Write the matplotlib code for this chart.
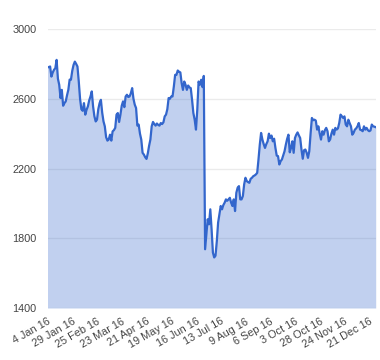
import numpy as np
import pandas as pd
import matplotlib
matplotlib.use('Agg')
import matplotlib.pyplot as plt

plt.rcParams['font.family'] = ['Liberation Sans', 'DejaVu Sans']

# UK trading days in 2016 (bank holidays removed)
holidays = ['2016-03-25', '2016-03-28', '2016-05-02', '2016-05-30',
            '2016-08-29', '2016-12-26', '2016-12-27']
dates = [d for d in pd.bdate_range('2016-01-04', '2016-12-30')
         if d.strftime('%Y-%m-%d') not in holidays]

prices = [
    2779, 2782, 2785, 2727, 2750, 2766, 2775, 2823, 2715, 2680,
    2604, 2651, 2560, 2575, 2585, 2620, 2651, 2710, 2709, 2760,
    2794, 2813, 2800, 2785, 2700, 2600, 2540, 2531, 2575, 2509,
    2537, 2556, 2590, 2613, 2642, 2556, 2500, 2470, 2480, 2540,
    2575, 2594, 2520, 2470, 2442, 2380, 2360, 2366, 2394, 2360,
    2413, 2420, 2433, 2509, 2518, 2467, 2509, 2560, 2585, 2552,
    2613, 2623, 2610, 2613, 2632, 2661, 2600, 2566, 2547, 2446,
    2452, 2400, 2366, 2290, 2280, 2265, 2255, 2286, 2330, 2366,
    2442, 2467, 2455, 2446, 2458, 2450, 2446, 2461, 2455, 2465,
    2499, 2509, 2540, 2604, 2600, 2613, 2613, 2670, 2737, 2737,
    2762, 2755, 2751, 2690, 2651, 2699, 2680, 2651, 2676, 2665,
    2661, 2594, 2518, 2480, 2423, 2537, 2699, 2680, 2709, 2667,
    2731, 1737, 1820, 1909, 1880, 1966, 1851, 1718, 1690, 1700,
    1783, 1890, 1937, 1985, 1966, 1990, 2004, 2023, 2015, 2023,
    2032, 2004, 1985, 2023, 1956, 2061, 2090, 2099, 2023, 2023,
    2042, 2109, 2147, 2128, 2122, 2118, 2141, 2147, 2156, 2160,
    2166, 2175, 2252, 2337, 2404, 2366, 2340, 2318, 2340, 2356,
    2400, 2375, 2389, 2356, 2371, 2318, 2274, 2271, 2223, 2242,
    2252, 2275, 2299, 2337, 2370, 2394, 2293, 2318, 2356, 2290,
    2375, 2394, 2407, 2390, 2375, 2309, 2256, 2305, 2309, 2290,
    2261, 2299, 2400, 2490, 2477, 2480, 2475, 2423, 2442, 2400,
    2366, 2414, 2394, 2420, 2433, 2414, 2356, 2366, 2400, 2423,
    2394, 2433, 2423, 2430, 2461, 2509, 2500, 2490, 2499, 2452,
    2442, 2480, 2460, 2442, 2394, 2404, 2423, 2430, 2442, 2461,
    2423, 2420, 2414, 2442, 2423, 2433, 2420, 2414, 2418, 2452,
    2442, 2440, 2437,
]

y_ticks = [1400, 1800, 2200, 2600, 3000]
tick_every = 19

x = np.arange(len(prices))

fig = plt.figure(figsize=(3.8, 3.6), dpi=100)
ax = fig.add_axes([0.125, 0.1444, 0.8637, 0.775])

ax.fill_between(x, prices, 1400, color='#3366cc', alpha=0.3, lw=0)
ax.plot(x, prices, color='#3366cc', lw=1.6)

ax.set_xlim(0, len(prices) - 1)
ax.set_ylim(1400, 3000)
ax.set_yticks(y_ticks)
ax.set_yticklabels([str(v) for v in y_ticks])

pos = list(range(0, len(prices), tick_every))
ax.set_xticks(pos)
ax.set_xticklabels([f"{dates[p].day} {dates[p]:%b} {dates[p]:%y}" for p in pos],
                   rotation=30, ha='right', va='top', rotation_mode='anchor')

ax.grid(axis='y', color='#ebebeb', lw=1)
ax.set_axisbelow(True)
for s in ax.spines.values():
    s.set_visible(False)
ax.tick_params(axis='both', length=0, labelsize=7.8, colors='#444444')
ax.tick_params(axis='y', pad=8)
ax.tick_params(axis='x', pad=6)

fig.savefig('out.png', dpi=100)
